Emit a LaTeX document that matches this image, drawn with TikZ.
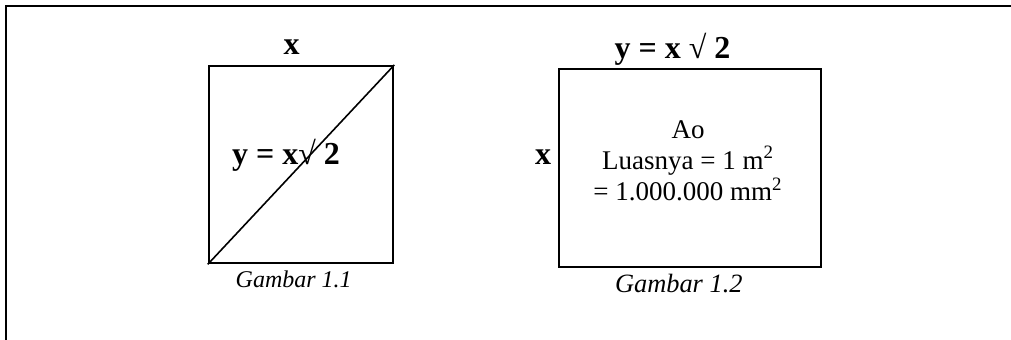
\documentclass[tikz,border=0pt]{standalone}
\usepackage{fontspec}
\setmainfont{Liberation Serif}
\usetikzlibrary{positioning}
\tikzset{
  every picture/.style={line width=1pt},
  sq/.style={draw, line width=1pt, inner sep=0pt},
  big/.style={font=\fontsize{16}{18}\selectfont\bfseries, inner sep=0pt, anchor=base},
  body/.style={font=\fontsize{13.5}{15.5}\selectfont, align=center, inner sep=0pt, anchor=base},
  caption/.style={font=\fontsize{13.2}{15}\selectfont\itshape, inner sep=0pt, anchor=base},
}

\begin{document}
\begin{tikzpicture}[x=0.5pt, y=-0.5pt]
  \useasboundingbox (0,0) rectangle (1011,340);
  % frame, only top and left side
  \coordinate (frameTL) at (6,6);
  \coordinate (frameR) at (1011,6);
  \coordinate (frameB) at (6,340);
  \draw (frameR) -- (frameTL) -- (frameB);

  % Gambar 1.1
  \node[sq, minimum width=92.3pt, minimum height=98.7pt] (sq1) at (301,164.7) {};
  \draw[line width=0.8pt] (sq1.south west) -- (sq1.north east);
  \node[big] (sisi1) at (291.7,55) {x};
  \node[big] (diag1) at (286,165) {y = x{\mdseries √} 2};
  \node[caption, font=\fontsize{12}{14}\selectfont\itshape] (cap1) at (293.7,287.3) {Gambar 1.1};

  % Gambar 1.2
  \node[sq, minimum width=130.8pt, minimum height=99pt] (sq2) at (689.9,168.3) {};
  \node[big] (panjang2) at (672.5,58.3) {y = x {\mdseries √} 2};
  \node[big] (lebar2) at (543,165) {x};
  \node[body] (isi1) at (688,138.3) {Ao};
  \node[body] (isi2) at (688,169.3) {Luasnya = 1 m\textsuperscript{2}};
  \node[body] (isi3) at (688,201) {= 1.000.000 mm\textsuperscript{2}};
  \node[caption] (cap2) at (678.8,292.7) {Gambar 1.2};
\end{tikzpicture}
\end{document}
